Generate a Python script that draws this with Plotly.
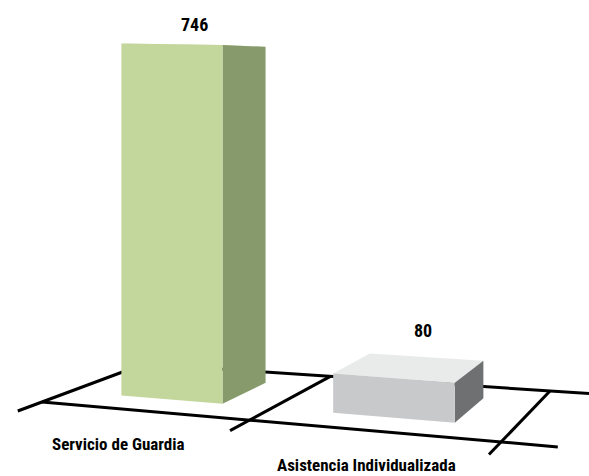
import numpy as np
import plotly.graph_objects as go

# ---------------- data ----------------
categories = ["Servicio de Guardia", "Asistencia Individualizada"]
values = [746, 80]
value_labels = ["746", "80"]

# ---------------- style ----------------
front_colors = ["#C3D69B", "#C8C9CB"]
side_colors = ["#879A6B", "#6F7072"]
top_colors = ["#D7E4BD", "#E9EBEB"]
FONT = "Liberation Sans Narrow, Arial Narrow, Roboto Condensed, Liberation Sans, sans-serif"
W_PX, H_PX = 589, 476

# pseudo-3D projection calibration (floor plane: u = category axis, t = depth)
calib_ut = [(0, 0), (2, 0), (0, 1), (2, 1)]
calib_px = [(42, 402), (501, 442), (144, 364), (550, 391)]
BAR_U0, BAR_U1 = 0.27, 0.77      # bar extent within a category cell
BAR_T0, BAR_T1 = 0.25, 0.75      # bar extent in depth
TICK_T = -0.2                    # tick extension in front of the floor
FLOOR_U_END = 2.2

# value -> pixel height factor (varies slightly with position on floor)
def height_scale(u, t):
    return 0.4718 + 0.0185 * (u - 0.264) - 0.0616 * (t - 0.25)

# homography from floor (u,t) to screen
A = []
b = []
for (u, t), (x, y) in zip(calib_ut, calib_px):
    A.append([u, t, 1, 0, 0, 0, -u * x, -t * x]); b.append(x)
    A.append([0, 0, 0, u, t, 1, -u * y, -t * y]); b.append(y)
hcoef = np.linalg.solve(np.array(A, float), np.array(b, float))
H = np.append(hcoef, 1.0).reshape(3, 3)

def project(u, t, z=0.0):
    p = H @ np.array([u, t, 1.0])
    x, y = p[0] / p[2], p[1] / p[2]
    return x, y - z * height_scale(u, t)

def poly(pts):
    xs, ys = zip(*[project(*p) for p in pts])
    return list(xs) + [xs[0]], list(ys) + [ys[0]]

fig = go.Figure()

# floor lines
floor_lines = []
for u in range(len(categories) + 1):
    floor_lines.append([(u, TICK_T), (u, 1)])
floor_lines.append([(0, 0), (FLOOR_U_END, 0)])
floor_lines.append([(0, 1), (FLOOR_U_END, 1)])
for seg in floor_lines:
    xs, ys = zip(*[project(*p) for p in seg])
    fig.add_trace(go.Scatter(x=list(xs), y=list(ys), mode="lines",
                             line=dict(color="black", width=3),
                             hoverinfo="skip", showlegend=False))

# bars (painter's order: top, right side, front)
for i, v in enumerate(values):
    u0, u1 = i + BAR_U0, i + BAR_U1
    faces = [
        ([(u0, BAR_T0, v), (u1, BAR_T0, v), (u1, BAR_T1, v), (u0, BAR_T1, v)], top_colors[i]),
        ([(u1, BAR_T0, 0), (u1, BAR_T1, 0), (u1, BAR_T1, v), (u1, BAR_T0, v)], side_colors[i]),
        ([(u0, BAR_T0, 0), (u1, BAR_T0, 0), (u1, BAR_T0, v), (u0, BAR_T0, v)], front_colors[i]),
    ]
    for pts, col in faces:
        xs, ys = poly(pts)
        fig.add_trace(go.Scatter(x=xs, y=ys, mode="lines", fill="toself",
                                 fillcolor=col, line=dict(width=0, color=col),
                                 hoverinfo="skip", showlegend=False))

# value labels (above the top face)
value_label_shift = [(0, 21), (13, 37)]
for i, v in enumerate(values):
    x, y = project(i + (BAR_U0 + BAR_U1) / 2, (BAR_T0 + BAR_T1) / 2, v)
    dx, dy = value_label_shift[i]
    fig.add_annotation(x=x, y=y, text="<b>%s</b>" % value_labels[i], showarrow=False,
                       xshift=dx, yshift=dy, xanchor="center", yanchor="middle",
                       font=dict(family=FONT, size=18, color="black"))

# category labels
cat_label_shift = [(-23, -33), (-2, -35)]
for i, c in enumerate(categories):
    x, y = project(i + 0.5, 0)
    dx, dy = cat_label_shift[i]
    fig.add_annotation(x=x, y=y, text="<b>%s</b>" % c, showarrow=False,
                       xshift=dx, yshift=dy, xanchor="center", yanchor="middle",
                       font=dict(family=FONT, size=17, color="black"))

fig.update_layout(
    width=W_PX, height=H_PX,
    margin=dict(l=0, r=0, t=0, b=0),
    paper_bgcolor="white", plot_bgcolor="white",
    showlegend=False,
    xaxis=dict(range=[0, W_PX], visible=False, fixedrange=True),
    yaxis=dict(range=[H_PX, 0], visible=False, fixedrange=True),
)

fig.write_html("out.html",
               config={"displayModeBar": False},
               post_script="document.body.style.margin='0px';"
                           "document.body.style.overflow='hidden';")
